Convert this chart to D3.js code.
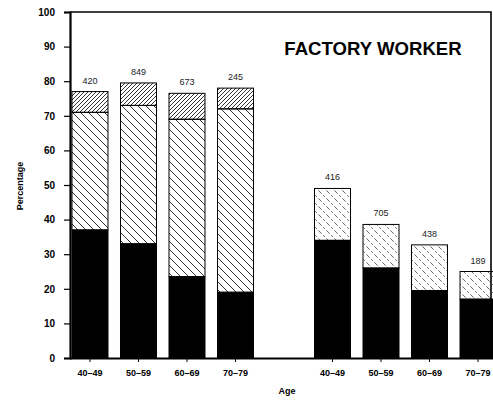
<!DOCTYPE html>
<html>
<head>
<meta charset="utf-8">
<script src="https://cdn.jsdelivr.net/npm/d3@7"></script>
<style>
	body { margin: 0; background: #fff; }
	svg { display: block; font-family: "Liberation Sans", Arial, sans-serif; }
</style>
</head>
<body>
<div id="chart"></div>
<script>

// age groups, shown twice (left and right group)
var ages = ["40–49", "50–59", "60–69", "70–79"];

// left group: three stacked segments (percent)
var leftN = ["420", "849", "673", "245"];
var leftBlack = [37, 33, 23.5, 19];
var leftMid = [34, 40, 45.5, 53];
var leftTop = [6, 6.5, 7.5, 6];

// right group: two stacked segments (percent)
var rightN = ["416", "705", "438", "189"];
var rightBlack = [34, 26, 19.5, 17];
var rightTop = [15, 12.6, 13.2, 8];

var yTicks = [0, 10, 20, 30, 40, 50, 60, 70, 80, 90, 100];
var title = "FACTORY WORKER";

function draw()	{

	const W = 493, H = 403;
	const margin = { top: 12, right: 2, bottom: 45, left: 70 };

	var svg = d3.select("#chart").append("svg")
		.attr("width", W)
		.attr("height", H);

	var defs = svg.append("defs");

	// dense forward hatch
	defs.append("pattern")
		.attr("id", "fwd")
		.attr("patternUnits", "userSpaceOnUse")
		.attr("width", 4).attr("height", 4)
		.append("path")
		.attr("d", "M-1,1 l2,-2 M0,4 l4,-4 M3,5 l2,-2")
		.attr("stroke", "#000").attr("stroke-width", 0.8);

	// wide back hatch
	defs.append("pattern")
		.attr("id", "back")
		.attr("patternUnits", "userSpaceOnUse")
		.attr("width", 8).attr("height", 8)
		.append("path")
		.attr("d", "M-2,6 l4,4 M0,0 l8,8 M6,-2 l4,4")
		.attr("stroke", "#000").attr("stroke-width", 0.8);

	// dashed back hatch
	defs.append("pattern")
		.attr("id", "dash")
		.attr("patternUnits", "userSpaceOnUse")
		.attr("width", 8).attr("height", 8)
		.append("path")
		.attr("d", "M-2,6 l4,4 M0,0 l8,8 M6,-2 l4,4")
		.attr("stroke", "#444").attr("stroke-width", 0.8)
		.attr("stroke-dasharray", "2.5,2");

	// 9 slots: 4 bars, empty slot, 4 bars
	var slots = d3.range(9);
	var x = d3.scaleBand(slots, [margin.left, 498])
		.paddingInner(0.258)
		.paddingOuter(0.041);

	var y = d3.scaleLinear([0, 100], [H - margin.bottom, margin.top]);

	// frame top and right
	svg.append("path")
		.attr("d", `M${margin.left},${y(100)} H491 V${y(0)}`)
		.attr("fill", "none")
		.attr("stroke", "#000")
		.attr("stroke-width", 1.6);

	// build rows
	var left = ages.map((a, i) => ({ slot: i, n: leftN[i], black: leftBlack[i], mid: leftMid[i], top: leftTop[i] }));
	var right = ages.map((a, i) => ({ slot: i + 5, n: rightN[i], black: rightBlack[i], mid: 0, top: rightTop[i] }));

	var stack = d3.stack().keys(["black", "mid", "top"]);

	var fills = {
		left: { black: "#000", mid: "url(#back)", top: "url(#fwd)" },
		right: { black: "#000", mid: "none", top: "url(#dash)" },
	};

	[ ["left", left], ["right", right] ].forEach( ([ g, rows ]) => {

		var layers = stack(rows);

		svg.append("g")
			.selectAll("g")
			.data(layers.filter(l => !(g === "right" && l.key === "mid")))
			.join("g")
			.attr("fill", l => fills[g][l.key])
			.selectAll("rect")
			.data(l => l)
			.join("rect")
			.attr("x", d => x(d.data.slot))
			.attr("width", x.bandwidth())
			.attr("y", d => y(d[1]))
			.attr("height", d => y(d[0]) - y(d[1]))
			.attr("stroke", "#000")
			.attr("stroke-width", 1);

		svg.append("g")
			.selectAll("text")
			.data(rows)
			.join("text")
			.attr("x", d => x(d.slot) + x.bandwidth() / 2)
			.attr("y", d => y(d.black + d.mid + d.top) - 8)
			.attr("text-anchor", "middle")
			.attr("font-size", 9)
			.attr("fill", "#222")
			.text(d => d.n);

	});

	// axes
	var yaxis = d3.axisLeft(y).tickValues(yTicks).tickSize(6).tickPadding(9);
	var gy = svg.append("g")
		.attr("transform", `translate(${margin.left},0)`)
		.call(yaxis);
	gy.select(".domain").attr("stroke-width", 2.2);
	gy.selectAll("text").attr("font-size", 10).attr("font-weight", "bold").attr("fill", "#000");
	gy.selectAll(".tick line").attr("stroke-width", 1.2);

	var xlab = d3.scaleOrdinal([0, 1, 2, 3, 5, 6, 7, 8], ages.concat(ages));
	var xaxis = d3.axisBottom(x)
		.tickValues([0, 1, 2, 3, 5, 6, 7, 8])
		.tickFormat(xlab)
		.tickSize(4)
		.tickPadding(8)
		.tickSizeOuter(0);
	var gx = svg.append("g")
		.attr("transform", `translate(0,${y(0)})`)
		.call(xaxis);
	gx.select(".domain").attr("d", `M${margin.left},0.5H${W}`).attr("stroke-width", 2);
	gx.selectAll("text").attr("font-size", 9).attr("font-weight", "bold").attr("fill", "#000");

	// labels
	svg.append("text")
		.attr("transform", "translate(23,186) rotate(-90)")
		.attr("text-anchor", "middle")
		.attr("font-size", 9)
		.attr("font-weight", "bold")
		.text("Percentage");

	svg.append("text")
		.attr("x", 287)
		.attr("y", 394)
		.attr("text-anchor", "middle")
		.attr("font-size", 9)
		.attr("font-weight", "bold")
		.text("Age");

	svg.append("text")
		.attr("x", 373)
		.attr("y", 55)
		.attr("text-anchor", "middle")
		.attr("font-size", 18.6)
		.attr("font-weight", "bold")
		.text(title);

}

draw();

</script>
</body>
</html>
